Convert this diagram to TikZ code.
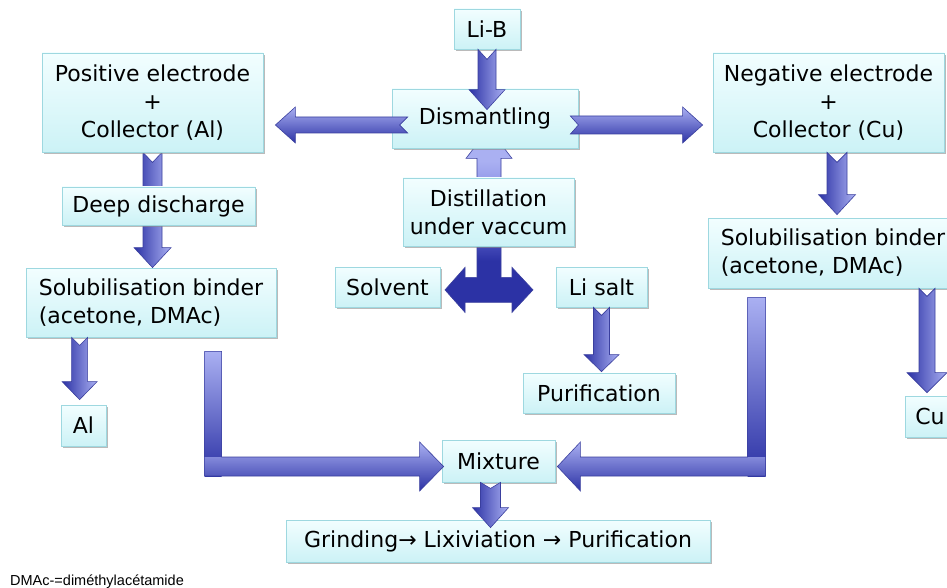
\documentclass[tikz,border=0pt]{standalone}
\usepackage{fontspec}
\setmainfont{DejaVu Sans}
\newfontfamily\notefont{Liberation Sans}
\usetikzlibrary{calc,shadows}
\pgfdeclarelayer{bgw}
\pgfdeclarelayer{back}
\pgfsetlayers{bgw,back,main}
\definecolor{adark}{HTML}{2C32A5}
\definecolor{amid}{HTML}{6A70D8}
\definecolor{alight}{HTML}{AAB0F2}
\definecolor{aedge}{HTML}{3A3F9E}
\definecolor{boxtop}{HTML}{F2FEFF}
\definecolor{boxbot}{HTML}{CCF2F6}
\definecolor{boxedge}{HTML}{9ED8E0}
\pgfdeclareverticalshading{tshade}{100bp}{color(0bp)=(adark); color(39bp)=(adark); color(50bp)=(amid); color(66bp)=(alight); color(100bp)=(alight)}
\tikzset{
 procbox/.style={draw=boxedge, line width=0.8pt, top color=boxtop, bottom color=boxbot,
   inner sep=0pt, align=center, font=\fontsize{22}{28}\selectfont,
   drop shadow={shadow xshift=1.5pt, shadow yshift=-2pt, fill=black!45, opacity=0.6}},
 varrowstyle/.style={draw=aedge, line width=0.6pt, left color=adark, right color=alight},
 harrowstyle/.style={draw=aedge, line width=0.6pt, top color=alight, bottom color=adark},
 lfill/.style={top color=alight, bottom color=adark},
 ledge/.style={draw=aedge, line width=0.6pt},
}
% #1 tail, #2 tip, #3 half shaft, #4 half head, #5 head length, #6 notch depth
\newcommand\blkdown[6]{\path[varrowstyle] let \p1=#1, \p2=#2 in
 (\x1-#3pt,\y1) -- (\x1,\y1-#6pt) -- (\x1+#3pt,\y1) -- (\x1+#3pt,\y2+#5pt) -- (\x1+#4pt,\y2+#5pt)
 -- (\x1,\y2) -- (\x1-#4pt,\y2+#5pt) -- (\x1-#3pt,\y2+#5pt) -- cycle;}
\newcommand\blkright[6]{\path[harrowstyle] let \p1=#1, \p2=#2 in
 (\x1,\y1+#3pt) -- (\x2-#5pt,\y1+#3pt) -- (\x2-#5pt,\y1+#4pt) -- (\x2,\y1) -- (\x2-#5pt,\y1-#4pt)
 -- (\x2-#5pt,\y1-#3pt) -- (\x1,\y1-#3pt) -- (\x1+#6pt,\y1) -- cycle;}
\newcommand\blkleft[6]{\path[harrowstyle] let \p1=#1, \p2=#2 in
 (\x1,\y1+#3pt) -- (\x2+#5pt,\y1+#3pt) -- (\x2+#5pt,\y1+#4pt) -- (\x2,\y1) -- (\x2+#5pt,\y1-#4pt)
 -- (\x2+#5pt,\y1-#3pt) -- (\x1,\y1-#3pt) -- (\x1-#6pt,\y1) -- cycle;}
\begin{document}
\begin{tikzpicture}[x=1pt,y=-1pt]
\begin{pgfonlayer}{bgw}
\fill[white] (0,0) rectangle (947,588);
\end{pgfonlayer}
\useasboundingbox (0,0) rectangle (947,588);

% boxes
\node[procbox, minimum width=66pt, minimum height=40pt] (LiB) at (487,29) {Li-B};
\node[procbox, minimum width=186pt, minimum height=59pt] (Dis) at (485,118.5) {Dismantling};
\node[procbox, minimum width=221pt, minimum height=99pt] (Pos) at (152.5,102.5) {Positive electrode\\+\\Collector (Al)};
\node[procbox, minimum width=193pt, minimum height=38pt] (Deep) at (158.5,206) {Deep discharge};
\node[procbox, minimum width=250pt, minimum height=69pt, align=left] (SolL) at (151,302.5) {Solubilisation binder\\(acetone, DMAc)};
\node[procbox, minimum width=45pt, minimum height=41pt] (Al) at (83.5,425.5) {Al};
\node[procbox, minimum width=171pt, minimum height=68pt] (Dist) at (488.5,212) {Distillation\\under vaccum};
\node[procbox, minimum width=105pt, minimum height=40pt] (Solv) at (387.5,287) {Solvent};
\node[procbox, minimum width=91pt, minimum height=40pt] (LiS) at (601.5,287) {Li salt};
\node[procbox, minimum width=152pt, minimum height=40pt] (Pur) at (599,393) {Purification};
\node[procbox, minimum width=231pt, minimum height=99pt] (Neg) at (828.5,102.5) {Negative electrode\\+\\Collector (Cu)};
\node[procbox, minimum width=250pt, minimum height=70pt, align=left] (SolR) at (833,253) {Solubilisation binder\\(acetone, DMAc)};
\node[procbox, minimum width=50pt, minimum height=41pt] (Cu) at (930,416.5) {Cu};
\node[procbox, minimum width=113pt, minimum height=42pt] (Mix) at (498.5,461) {Mixture};
\node[procbox, minimum width=424pt, minimum height=42pt] (Grind) at (498,541) {Grinding→ Lixiviation → Purification};
\node[font=\notefont\fontsize{14.5}{16}\selectfont, anchor=base west, inner sep=0pt] (note) at (10,585) {DMAc-=diméthylacétamide};

% arrows behind boxes
\begin{pgfonlayer}{back}
 \coordinate (T) at ($(Dist.south)+(0.5,43.5)$);
 \path[draw=aedge, line width=0.6pt, shading=tshade]
   ($(T)+(0,-161.5)$) -- ($(T)+(23,-131.5)$) -- ($(T)+(12,-131.5)$) -- ($(T)+(12,-12.5)$)
   -- ($(T)+(23,-12.5)$) -- ($(T)+(23,-22.5)$) -- ($(T)+(44,0)$) -- ($(T)+(23,22.5)$)
   -- ($(T)+(23,12.5)$) -- ($(T)+(-24,12.5)$) -- ($(T)+(-24,22.5)$) -- ($(T)+(-44,0)$)
   -- ($(T)+(-24,-22.5)$) -- ($(T)+(-24,-12.5)$) -- ($(T)+(-12,-12.5)$) -- ($(T)+(-12,-131.5)$)
   -- ($(T)+(-23,-131.5)$) -- cycle;
 \blkdown{(Pos.south)}{(SolL.north)}{9.5}{18.5}{20}{10}
\end{pgfonlayer}

% arrows on top
\blkdown{(LiB.south)}{($(Dis.north)+(0,21)$)}{9}{18}{20}{10}
\blkleft{($(Dis.west)+(16,6.5)$)}{($(Pos.east)+(12,0)$)}{8}{18}{20}{8}
\blkright{($(Dis.east)+(-8,6.5)$)}{($(Neg.west)+(-10,0)$)}{9}{18}{20}{8}
\blkdown{($(SolL.south west)+(54,0)$)}{($(Al.north)+(0,-5)$)}{8}{17.5}{18}{8}
\blkdown{($(Neg.south)+(8.5,0)$)}{($(SolR.north)+(0,-3)$)}{10}{18.5}{20}{10}
\blkdown{($(SolR.south)+(94,0)$)}{($(Cu.north)+(0,-3)$)}{8}{20}{20}{8}
\blkdown{(LiS.south)}{($(Pur.north)+(0,-1)$)}{8}{17.5}{17}{8}
\blkdown{($(Mix.south)+(-8,0)$)}{($(Grind.north)+(0,8)$)}{10}{18}{20}{6}

% L-shaped arrows into Mixture
\coordinate (LLtop) at ($(SolL.south west)+(179,14)$);
\coordinate (LLtip) at ($(Mix.west)+(2,5.5)$);
\path[lfill] let \p1=(LLtop), \p2=(LLtip) in
 (\x1,\y1) rectangle (\x1+17pt,\y2-9.5pt);
\path[lfill] let \p1=(LLtop), \p2=(LLtip) in
 (\x1,\y2+9.5pt) -- (\x2-24pt,\y2+9.5pt) -- (\x2-24pt,\y2+24.5pt)
 -- (\x2,\y2) -- (\x2-24pt,\y2-24.5pt) -- (\x2-24pt,\y2-9.5pt) -- (\x1,\y2-9.5pt) -- cycle;
\path[ledge] let \p1=(LLtop), \p2=(LLtip) in
 (\x1,\y1) -- (\x1+17pt,\y1) -- (\x1+17pt,\y2+9.5pt) -- (\x2-24pt,\y2+9.5pt) -- (\x2-24pt,\y2+24.5pt)
 -- (\x2,\y2) -- (\x2-24pt,\y2-24.5pt) -- (\x2-24pt,\y2-9.5pt) -- (\x1,\y2-9.5pt) -- cycle;

\coordinate (RLtop) at ($(SolR.south west)+(40,9)$);
\coordinate (RLtip) at ($(Mix.east)+(2,5.5)$);
\path[lfill] let \p1=(RLtop), \p2=(RLtip) in
 (\x1,\y1) rectangle (\x1+18pt,\y2-9.5pt);
\path[lfill] let \p1=(RLtop), \p2=(RLtip) in
 (\x1+18pt,\y2-9.5pt) -- (\x2+23pt,\y2-9.5pt) -- (\x2+23pt,\y2-24.5pt)
 -- (\x2,\y2) -- (\x2+23pt,\y2+24.5pt) -- (\x2+23pt,\y2+9.5pt) -- (\x1+18pt,\y2+9.5pt) -- cycle;
\path[ledge] let \p1=(RLtop), \p2=(RLtip) in
 (\x1,\y1) -- (\x1+18pt,\y1) -- (\x1+18pt,\y2-9.5pt) -- (\x2+23pt,\y2-9.5pt) -- (\x2+23pt,\y2-24.5pt)
 -- (\x2,\y2) -- (\x2+23pt,\y2+24.5pt) -- (\x2+23pt,\y2+9.5pt) -- (\x1,\y2+9.5pt) -- cycle;
\end{tikzpicture}
\end{document}
